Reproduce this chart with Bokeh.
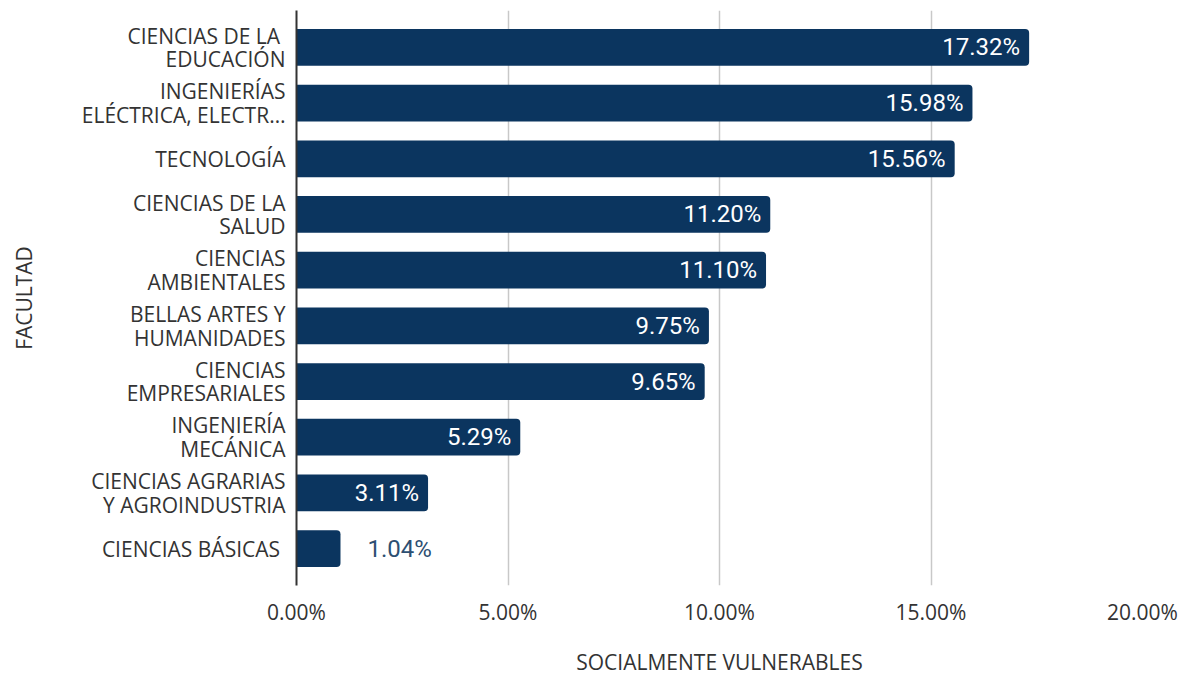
from bokeh.plotting import figure
from bokeh.models import ColumnDataSource, FixedTicker, Range1d
from bokeh.embed import file_html
from bokeh.resources import INLINE
from bokeh.core.properties import value

categories = ["CIENCIAS  DE LA\nEDUCACIÓN", "INGENIERÍAS\nELÉCTRICA, ELECTR…", "TECNOLOGÍA",
              "CIENCIAS DE LA\nSALUD", "CIENCIAS\nAMBIENTALES", "BELLAS ARTES Y\nHUMANIDADES",
              "CIENCIAS\nEMPRESARIALES", "INGENIERÍA\nMECÁNICA", "CIENCIAS AGRARIAS\nY AGROINDUSTRIA",
              "CIENCIAS  BÁSICAS"]
values = [17.32, 15.98, 15.56, 11.20, 11.10, 9.75, 9.65, 5.29, 3.11, 1.04]
value_labels = ["17.32%", "15.98%", "15.56%", "11.20%", "11.10%", "9.75%", "9.65%", "5.29%", "3.11%", "1.04%"]
x_ticks = [0, 5, 10, 15, 20]
x_tick_labels = ["0.00%", "5.00%", "10.00%", "15.00%", "20.00%"]

NAVY = "#0b355f"
idx = list(range(len(categories)))

p = figure(width=1184, height=681, output_backend="svg", toolbar_location=None,
           x_range=Range1d(0, 20), y_range=Range1d(9.664, -0.664),
           min_border_left=296, min_border_right=42, min_border_top=10, min_border_bottom=96)
p.outline_line_color = None
p.background_fill_color = "white"

src = ColumnDataSource(dict(y=idx, v=values, lab=value_labels))
p.hbar(y="y", left=0, right="v", height=0.66, source=src, fill_color=NAVY,
       line_color=None, border_radius=(0, 4, 4, 0))

inside = [i for i in idx if values[i] >= 2]
outside = [i for i in idx if values[i] < 2]
src_in = ColumnDataSource(dict(x=[values[i] for i in inside], y=inside, t=[value_labels[i] for i in inside]))
src_out = ColumnDataSource(dict(x=[values[i] for i in outside], y=outside, t=[value_labels[i] for i in outside]))
p.text(x="x", y="y", text="t", source=src_in, text_align="right", text_baseline="middle",
       x_offset=-9, text_color="white", text_font=value("Roboto"), text_font_size="24px")
p.text(x="x", y="y", text="t", source=src_out, text_align="left", text_baseline="middle",
       x_offset=27, text_color="#2d4f72", text_font=value("Roboto"), text_font_size="24px")

# x axis
p.xaxis.ticker = FixedTicker(ticks=x_ticks)
p.xaxis.major_label_overrides = {t: l for t, l in zip(x_ticks, x_tick_labels)}
p.xaxis.axis_line_color = None
p.xaxis.major_tick_line_color = None
p.xaxis.major_tick_out = 0
p.xaxis.major_tick_in = 0
p.xaxis.minor_tick_line_color = None
p.xaxis.major_label_standoff = 12
p.xaxis.major_label_text_font = "Open Sans"
p.xaxis.major_label_text_font_size = "21px"
p.xaxis.major_label_text_color = "#333333"
p.xaxis.axis_label = "SOCIALMENTE VULNERABLES"
p.xaxis.axis_label_standoff = 19
p.xaxis.axis_label_text_font = "Open Sans"
p.xaxis.axis_label_text_font_size = "21px"
p.xaxis.axis_label_text_font_style = "normal"
p.xaxis.axis_label_text_color = "#333333"

# y axis
p.yaxis.ticker = FixedTicker(ticks=idx)
p.yaxis.major_label_overrides = {i: c for i, c in zip(idx, categories)}
p.yaxis.axis_line_color = "#333333"
p.yaxis.axis_line_width = 2
p.yaxis.major_tick_line_color = None
p.yaxis.major_tick_out = 0
p.yaxis.major_tick_in = 0
p.yaxis.minor_tick_line_color = None
p.yaxis.major_label_standoff = 11
p.yaxis.major_label_text_font = "Open Sans"
p.yaxis.major_label_text_font_size = "21px"
p.yaxis.major_label_text_line_height = 0.84
p.yaxis.major_label_text_color = "#333333"
p.yaxis.axis_label = "FACULTAD"
p.yaxis.axis_label_standoff = 41
p.yaxis.axis_label_text_font = "Open Sans"
p.yaxis.axis_label_text_font_size = "21px"
p.yaxis.axis_label_text_font_style = "normal"
p.yaxis.axis_label_text_color = "#333333"

p.xgrid.grid_line_color = "#c8c8c8"
p.xgrid.grid_line_width = 1.5
p.ygrid.grid_line_color = None

open("out.html", "w").write(file_html(p, INLINE))
